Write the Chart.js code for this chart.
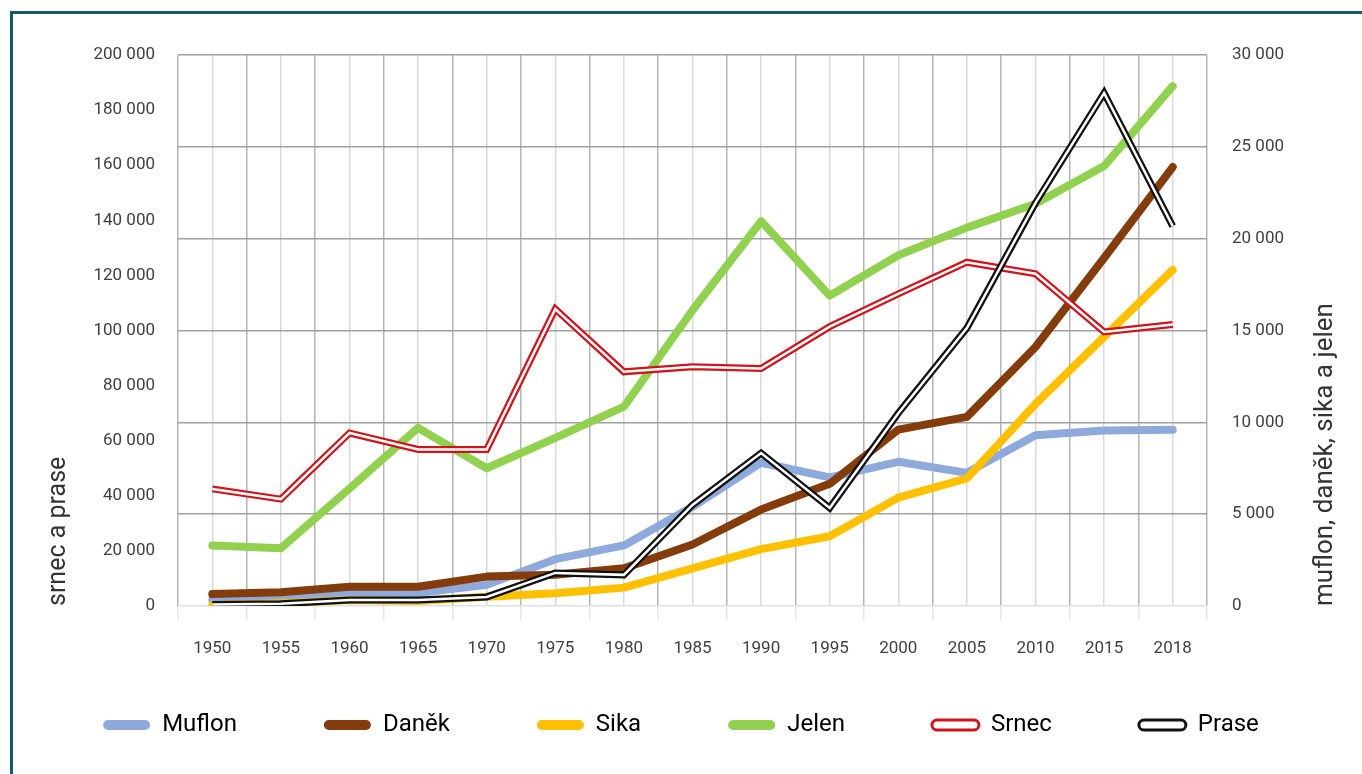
<!DOCTYPE html>
<html>
<head>
<meta charset="utf-8">
<script src="https://cdn.jsdelivr.net/npm/chart.js@4.4.1/dist/chart.umd.min.js"></script>
<style>
  html, body { margin: 0; padding: 0; background: #fff; overflow: hidden; }
  #wrap { position: relative; width: 1362px; height: 774px; }
  #frame {
    position: absolute; left: 10px; top: 11px; width: 1400px; height: 800px;
    border-left: 3px solid #145a6c; border-top: 3px solid #145a6c;
    pointer-events: none;
  }
</style>
</head>
<body>
<div id="wrap">
  <canvas id="lovChart" width="1362" height="774"></canvas>
  <div id="frame"></div>
</div>
<script>
// roky a úlovky
var years = ['1950', '1955', '1960', '1965', '1970', '1975', '1980', '1985', '1990', '1995', '2000', '2005', '2010', '2015', '2018'];

// pravá osa
var muflon = [330, 440, 700, 700, 1150, 2550, 3300, 5400, 7800, 7000, 7850, 7250, 9300, 9550, 9600];
var danek  = [650, 750, 1050, 1050, 1600, 1700, 2050, 3350, 5250, 6650, 9600, 10300, 14100, 18950, 23900];
var sika   = [50, 150, 330, 270, 500, 700, 1000, 2050, 3100, 3800, 5900, 6950, 11000, 14650, 18300];
var jelen  = [3300, 3150, 6400, 9700, 7500, 9150, 10850, 16100, 20950, 16900, 19100, 20600, 21900, 23950, 28300];

// levá osa
var srnec  = [42500, 38800, 62800, 56800, 56800, 107800, 85000, 86800, 86200, 101400, 113300, 124800, 120600, 99500, 102200];
var prase  = [500, 800, 2200, 2200, 3300, 12000, 11300, 36700, 55500, 35600, 70000, 100900, 146300, 186200, 137900];

var leftTitle = 'srnec a prase';
var rightTitle = 'muflon, daněk, sika a jelen';

Chart.defaults.font.family = 'Roboto';
Chart.defaults.color = '#404040';

function fmt(v) {
    return String(v).replace(/\B(?=(\d{3})+(?!\d))/g, ' ');
}

function thick(label, data, color, axis, order) {
    return {
        label: label, data: data, yAxisID: axis, order: order,
        borderColor: color, backgroundColor: color,
        borderWidth: 8, borderJoinStyle: 'round', borderCapStyle: 'round',
        pointRadius: 0, pointHoverRadius: 0, tension: 0
    };
}

// dvojitá čára = široká barevná + úzká bílá uvnitř
function dbl(label, data, color, axis, order) {
    return [{
        label: label, data: data, yAxisID: axis, order: order, dbl: true,
        borderColor: color, backgroundColor: '#fff',
        borderWidth: 7, pointRadius: 0, pointHoverRadius: 0, tension: 0
    }, {
        label: label + '_in', data: data, yAxisID: axis, order: order - 0.5, inner: true,
        borderColor: '#fff', borderWidth: 2.5,
        pointRadius: 0, pointHoverRadius: 0, tension: 0
    }];
}

var datasets = [
    thick('Muflon', muflon, '#8eaadc', 'y1', 10),
    thick('Daněk', danek, '#843c0c', 'y1', 9),
    thick('Sika', sika, '#ffc000', 'y1', 8),
    thick('Jelen', jelen, '#92d050', 'y1', 7)
].concat(dbl('Srnec', srnec, '#d0141c', 'y', 6), dbl('Prase', prase, '#111111', 'y', 4));

// titulek pravé osy čte se zdola nahoru
var rightTitlePlugin = {
    id: 'rightTitle',
    afterDraw: function(chart) {
        var s = chart.scales.y1;
        var ctx = chart.ctx;
        ctx.save();
        ctx.translate(s.right - 37, chart.chartArea.bottom);
        ctx.rotate(-Math.PI / 2);
        ctx.font = '26px Roboto';
        ctx.fillStyle = '#333';
        ctx.textAlign = 'left';
        ctx.textBaseline = 'middle';
        ctx.fillText(rightTitle, 0, 0);
        ctx.restore();
    }
};

// legenda má velké mezery mezi položkami, horní odsazení zmenšíme posunem
var legendShift = {
    id: 'legendShift',
    afterLayout: function(chart) {
        var lg = chart.legend;
        lg.top -= 32;
        lg.bottom -= 32;
    }
};

var ctx = document.getElementById('lovChart').getContext('2d');
var chart = new Chart(ctx, {
    type: 'line',
    data: { labels: years, datasets: datasets },
    plugins: [rightTitlePlugin, legendShift],
    options: {
        responsive: false,
        animation: false,
        devicePixelRatio: 1,
        layout: { padding: { left: 0, right: 0, top: 55, bottom: 0 } },
        plugins: {
            tooltip: { enabled: false },
            legend: {
                position: 'bottom',
                maxHeight: 116,
                labels: {
                    boxWidth: 47,
                    boxHeight: 10,
                    useBorderRadius: true,
                    padding: 87,
                    color: '#333',
                    font: { size: 24 },
                    generateLabels: function(chart) {
                        return chart.data.datasets.map(function(ds, i) {
                            return {
                                text: ds.label,
                                datasetIndex: i,
                                fillStyle: ds.dbl ? '#fff' : ds.borderColor,
                                strokeStyle: ds.borderColor,
                                lineWidth: ds.dbl ? 3 : 0,
                                borderRadius: 5,
                                hidden: false,
                                inner: ds.inner
                            };
                        }).filter(function(it) { return !it.inner; });
                    }
                }
            }
        },
        scales: {
            x: {
                type: 'category',
                position: 'bottom',
                offset: true,
                border: { display: false },
                grid: { offset: true, color: '#b4b4b4', lineWidth: 1.5, drawTicks: true, tickLength: 14, tickColor: '#e6e6e6' },
                ticks: { padding: 19, font: { size: 17 }, color: '#404040', maxRotation: 0, autoSkip: false },
                afterFit: function(s) { s.height = 52; }
            },
            x2: {
                type: 'category',
                position: 'bottom',
                labels: years,
                offset: true,
                border: { display: false },
                grid: { offset: false, color: '#d9d9d9', lineWidth: 1.5, drawTicks: false },
                ticks: { display: false },
                afterFit: function(s) { s.height = 0; }
            },
            y: {
                position: 'left',
                min: 0, max: 200000,
                border: { display: false },
                grid: { display: false, drawTicks: false },
                ticks: { stepSize: 20000, padding: 23, font: { size: 17 }, color: '#404040', callback: fmt },
                title: { display: true, text: leftTitle, align: 'start', font: { size: 25 }, color: '#333', padding: { top: 44, bottom: 0 } },
                afterFit: function(s) { s.width = 178; }
            },
            y1: {
                position: 'right',
                min: 0, max: 30000,
                border: { display: false },
                grid: {
                    drawTicks: false,
                    lineWidth: 1.5,
                    color: function(c) { return c.tick && c.tick.value === 0 ? '#e0e0e0' : '#a0a0a0'; }
                },
                ticks: { stepSize: 5000, padding: 25, font: { size: 17 }, color: '#404040', callback: fmt },
                afterFit: function(s) { s.width = 1362 - 1207; }
            }
        }
    }
});
</script>
</body>
</html>
